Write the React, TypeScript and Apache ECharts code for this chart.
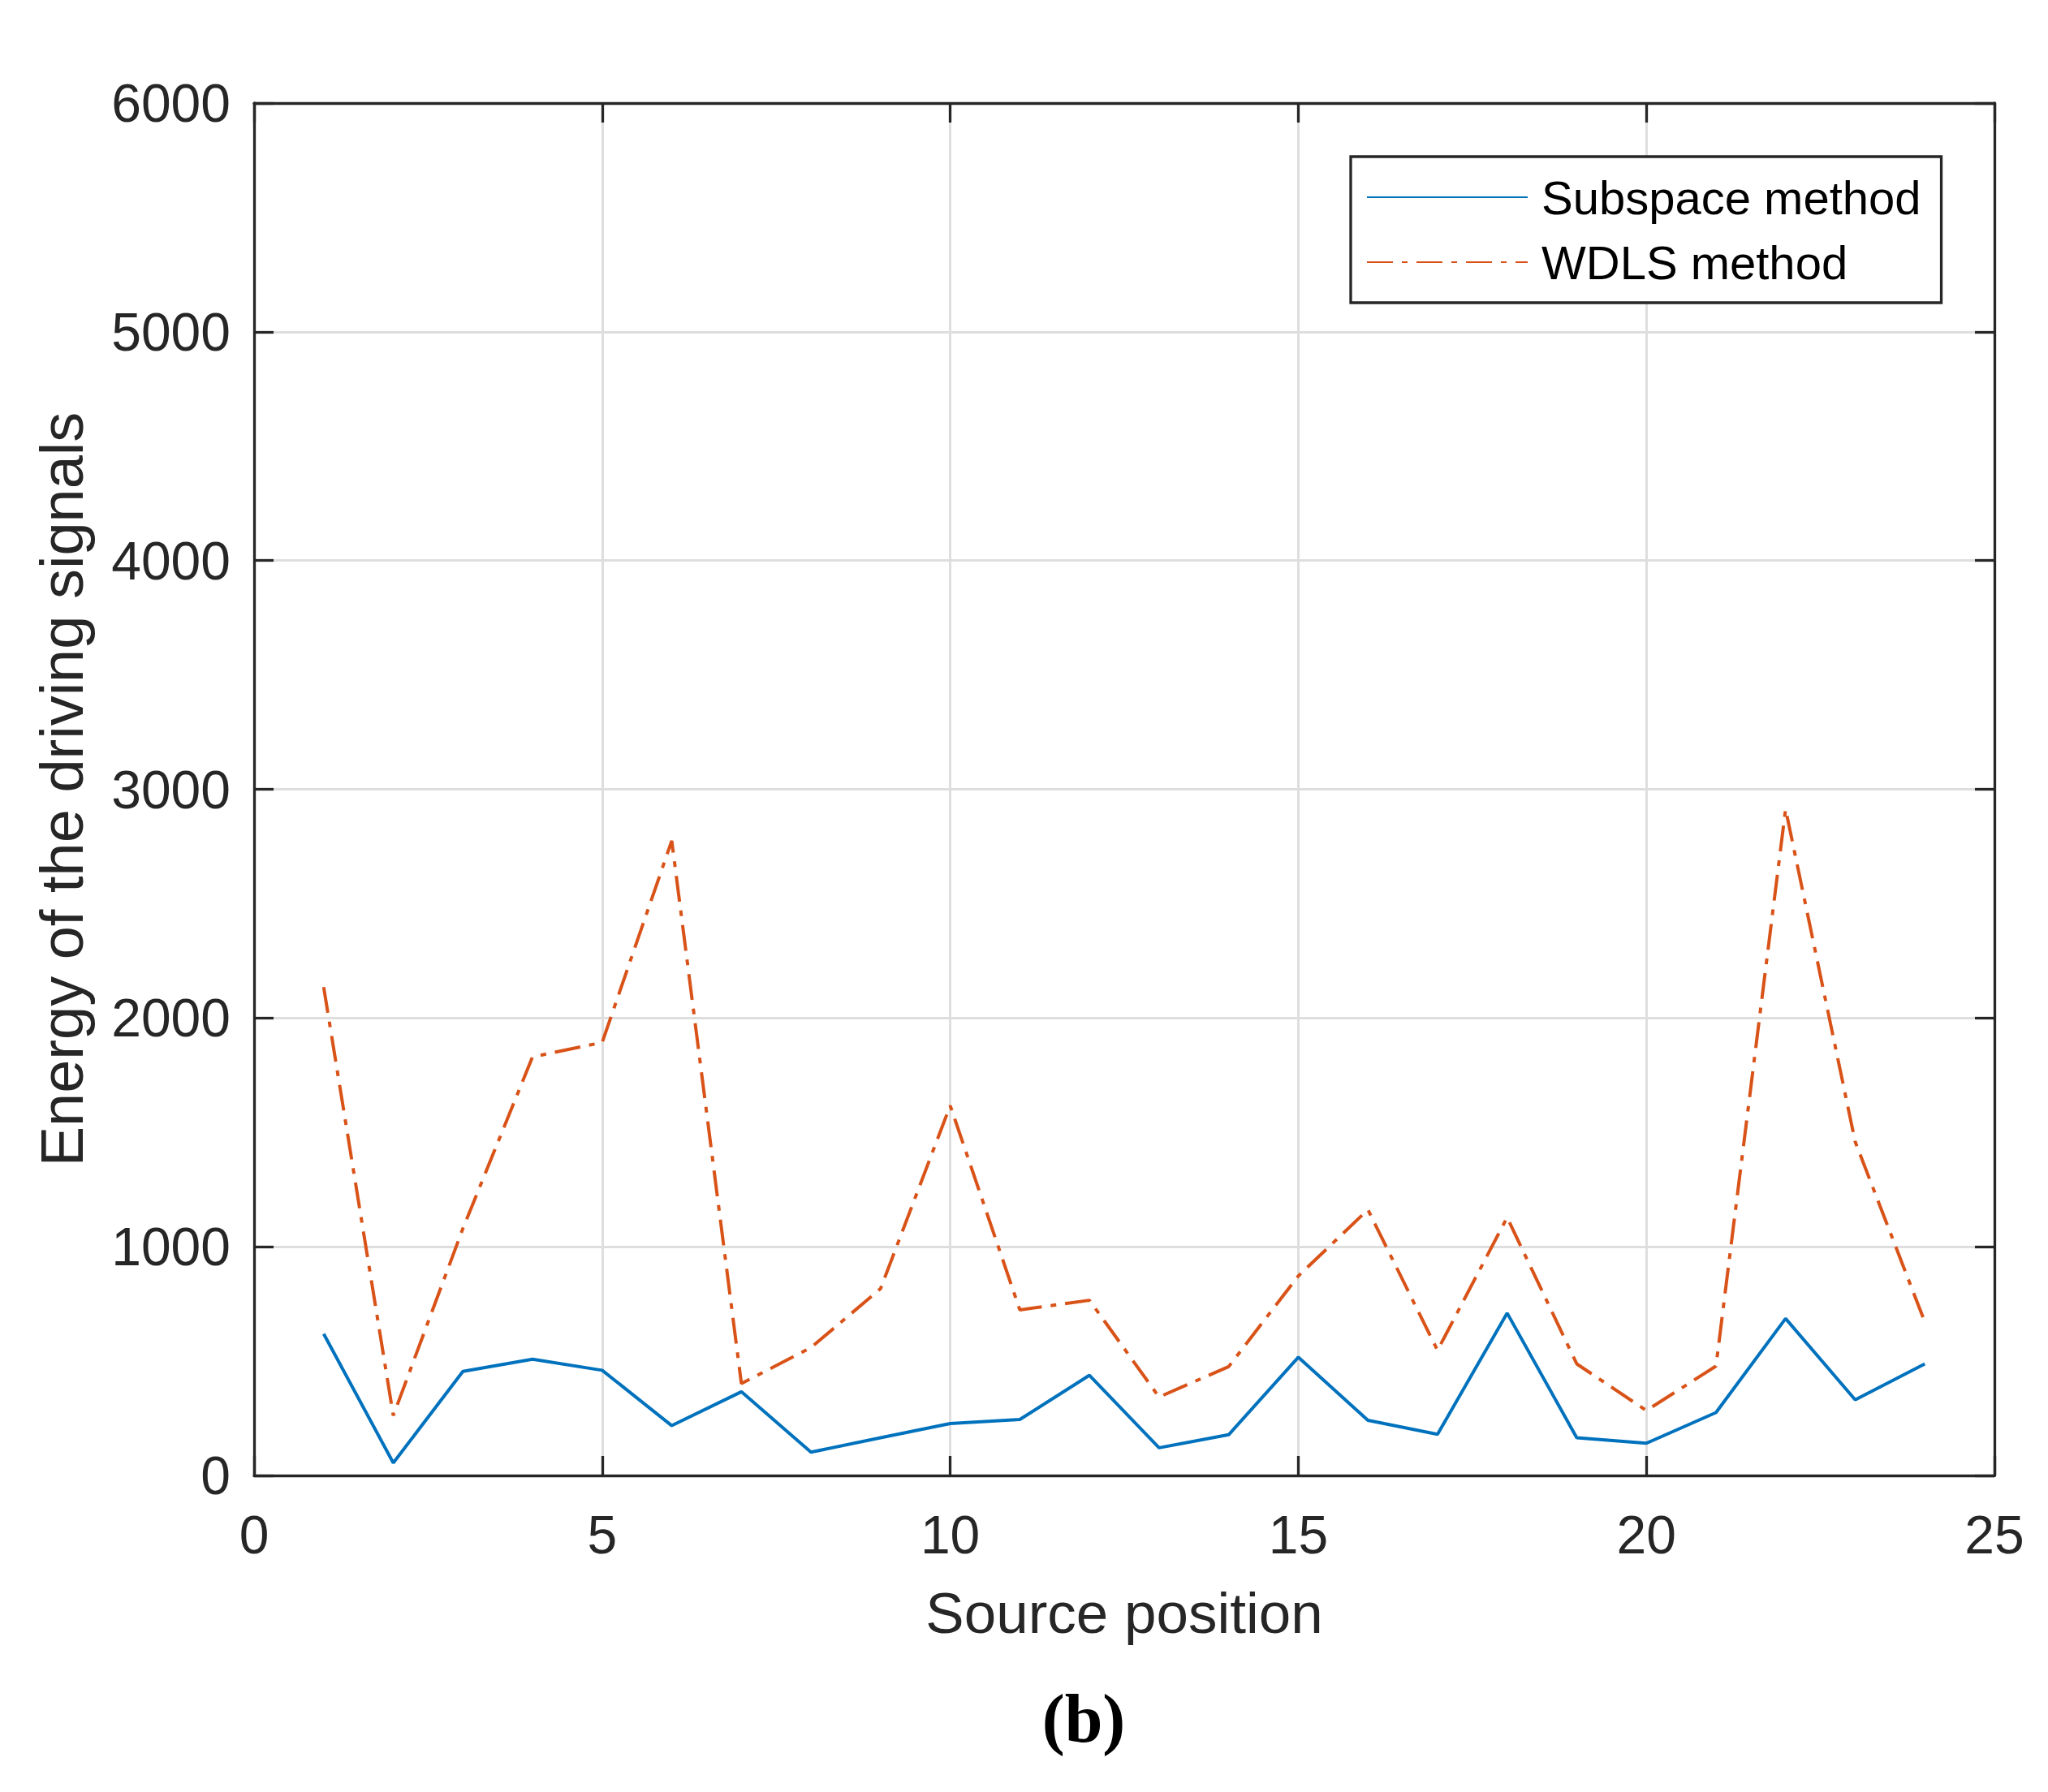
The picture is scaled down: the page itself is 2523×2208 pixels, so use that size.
import React, { useEffect, useRef } from "react";
import * as echarts from "echarts";

const sourcePositions = [1, 2, 3, 4, 5, 6, 7, 8, 9, 10, 11, 12, 13, 14, 15, 16, 17, 18, 19, 20, 21, 22, 23, 24];
const subspaceEnergy = [619, 55, 455, 508, 460, 218, 366, 102, 165, 227, 245, 438, 121, 178, 517, 241, 180, 710, 165, 141, 275, 686, 331, 488];
const wdlsEnergy = [2135, 262, 1080, 1830, 1893, 2775, 402, 559, 817, 1617, 724, 766, 343, 476, 872, 1162, 547, 1128, 488, 284, 478, 2913, 1459, 671];
const seriesNames = ["Subspace method", "WDLS method"];
const xAxisTitle = "Source position";
const yAxisTitle = "Energy of the driving signals";
const panelLabel = "(b)";

const FONT = "'Liberation Sans', Arial, Helvetica, sans-serif";
const AXIS = "#262626";
const GRID = "#dedede";

export default function App() {
  const ref = useRef<HTMLDivElement>(null);
  useEffect(() => {
    if (!ref.current) return;
    const chart = echarts.init(ref.current, null, { renderer: "svg" });
    const grid = { left: 313, right: 66, top: 127, bottom: 390 };
    const xBase = { type: "value", min: 0, max: 25, interval: 5 };
    const yBase = { type: "value", min: 0, max: 6000, interval: 1000 };
    const boxLine = { show: true, onZero: false, lineStyle: { color: AXIS, width: 3.3 } };
    const boxTick = { show: true, inside: true, length: 24, lineStyle: { color: AXIS, width: 3.3 } };
    const plain = (v: number) => String(v);
    chart.setOption({
      animation: false,
      backgroundColor: "#ffffff",
      grid,
      xAxis: [
        {
          ...xBase,
          position: "bottom",
          z: 3,
          axisLine: boxLine,
          axisTick: boxTick,
          splitLine: { show: false },
          axisLabel: { color: AXIS, fontSize: 66, lineHeight: 66, margin: 40, fontFamily: FONT, formatter: plain },
          name: xAxisTitle,
          nameLocation: "middle",
          nameGap: 134,
          nameTextStyle: { color: AXIS, fontSize: 71, lineHeight: 71, fontFamily: FONT },
        },
        {
          ...xBase,
          position: "top",
          z: 3,
          axisLine: boxLine,
          axisTick: boxTick,
          splitLine: { show: false },
          axisLabel: { show: false },
        },
        {
          ...xBase,
          position: "bottom",
          z: 0,
          axisLine: { show: false },
          axisTick: { show: false },
          axisLabel: { show: false },
          splitLine: { show: true, lineStyle: { color: GRID, width: 3 } },
        },
      ],
      yAxis: [
        {
          ...yBase,
          position: "left",
          z: 3,
          axisLine: boxLine,
          axisTick: boxTick,
          splitLine: { show: false },
          axisLabel: { color: AXIS, fontSize: 66, margin: 29, fontFamily: FONT, formatter: plain },
          name: yAxisTitle,
          nameLocation: "middle",
          nameGap: 200,
          nameTextStyle: { color: AXIS, fontSize: 74, lineHeight: 74, fontFamily: FONT },
        },
        {
          ...yBase,
          position: "right",
          z: 3,
          axisLine: boxLine,
          axisTick: boxTick,
          splitLine: { show: false },
          axisLabel: { show: false },
        },
        {
          ...yBase,
          position: "left",
          z: 0,
          axisLine: { show: false },
          axisTick: { show: false },
          axisLabel: { show: false },
          splitLine: { show: true, lineStyle: { color: GRID, width: 3 } },
        },
      ],
      legend: {
        orient: "vertical",
        left: 1664,
        top: 193,
        padding: [17, 25, 17, 19],
        itemGap: 14,
        itemWidth: 198,
        itemHeight: 20,
        itemStyle: { opacity: 0 },
        backgroundColor: "#ffffff",
        borderColor: AXIS,
        borderWidth: 3.3,
        borderRadius: 0,
        textStyle: { color: "#000000", fontSize: 58, lineHeight: 66, fontFamily: FONT, padding: [0, 0, 0, 12] },
        data: seriesNames,
      },
      series: [
        {
          name: seriesNames[0],
          type: "line",
          xAxisIndex: 0,
          yAxisIndex: 0,
          symbol: "none",
          z: 2,
          lineStyle: { color: "#0072BD", width: 4 },
          itemStyle: { color: "#0072BD" },
          data: sourcePositions.map((x, i) => [x, subspaceEnergy[i]]),
        },
        {
          name: seriesNames[1],
          type: "line",
          xAxisIndex: 0,
          yAxisIndex: 0,
          symbol: "none",
          z: 2,
          lineStyle: { color: "#D95319", width: 4, type: [32, 11, 7, 11] },
          itemStyle: { color: "#D95319" },
          data: sourcePositions.map((x, i) => [x, wdlsEnergy[i]]),
        },
      ],
      graphic: [
        {
          type: "text",
          x: 1335,
          y: 2117,
          style: {
            text: panelLabel,
            fill: "#000000",
            font: "bold 84px 'Liberation Serif', 'Times New Roman', serif",
            align: "center",
            verticalAlign: "middle",
          },
        },
      ],
    });
    return () => chart.dispose();
  }, []);
  return (
    <div
      ref={ref}
      style={{ position: "absolute", left: 0, top: 0, width: 2523, height: 2208, background: "#fff" }}
    />
  );
}
